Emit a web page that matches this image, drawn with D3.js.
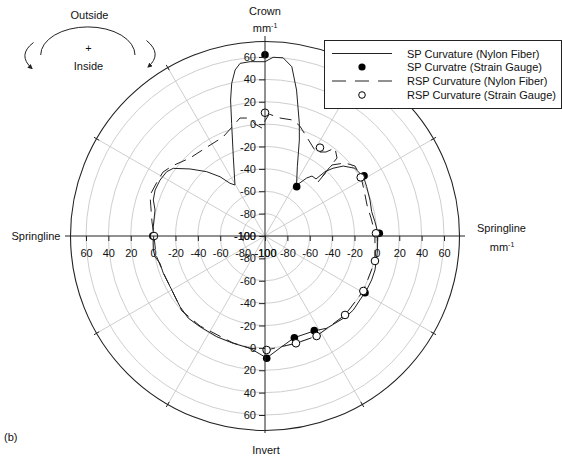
<!DOCTYPE html>
<html>
<head>
<meta charset="utf-8">
<script src="https://cdn.jsdelivr.net/npm/d3@7"></script>
<style>
  body { margin: 0; background: #fff; }
  svg { font-family: Arial, "Liberation Sans", Helvetica, sans-serif; }
</style>
</head>
<body>
<div id="chart"></div>
<script>
// radial tick values (mm^-1), centre is -100
const tickValues = [-100, -80, -60, -40, -20, 0, 20, 40, 60];
const gridValues = [-80, -60, -40, -20, 0, 20, 40, 60];
const spokeAngles = [30, 60, 120, 150, 210, 240, 300, 330];

// SP Curvature (Nylon Fiber): angle (deg, clockwise from crown), curvature
const spAngle = [0, 2.6, 5.8, 9.0, 12.2, 16.9, 19.7, 25.0, 30.4, 32.1, 35.7, 38.1, 41.8, 43.0, 45.1, 48.2,
  53.0, 56.6, 59.6, 64.1, 71.1, 77.2, 82.6, 88.5, 98.8, 107.2, 112.4, 118.0, 124.0, 130.0, 134.9, 146.2,
  152.7, 163.9, 172.4, 179.2, 187.6, 196.5, 205.6, 215.6, 223.0, 230.3, 239.9, 249.9, 255.4, 259.3, 262.9,
  270, 274.8, 283.3, 287.9, 292.7, 298.1, 303.2, 306.4, 311.8, 317.8, 322.8, 326.4, 329.5, 338.2, 343.5,
  345.8, 347.7, 349.8, 351.8, 355.1, 360];
const spValue = [55.8, 59.9, 60.1, 53.2, 33.5, 5.5, -8.9, -31.6, -44.1, -46.2, -36.2, -31.9, -31.6, -21.4, -14.2, -6.2,
  0.6, 1.7, 2.5, 1.0, -0.8, -2.2, -0.9, 1.0, 1.5, 2.9, 3.1, 2.9, 2.3, 3.0, 2.2, -0.8,
  -4.5, -5.4, 1.0, 9.0, 1.3, 0.0, -0.2, -0.3, 0.5, -1.2, -3.7, -3.2, -3.0, 0.0, 0.6,
  0.1, 0.2, 1.0, 4.9, 6.5, 6.3, 5.0, 1.9, -10.1, -22.4, -33.5, -43.4, -47.1, -23.7, 5.0,
  25.4, 39.7, 50.8, 55.9, 56.4, 55.8];

// RSP Curvature (Nylon Fiber)
const rspAngle = [0, 2, 7.2, 13.6, 17.6, 23.9, 31.3, 36.0, 38.5, 42.7, 44.5, 43.3, 47.6, 52.1, 58.4, 65.1,
  73.1, 80.4, 88.4, 102.8, 119.2, 134.6, 152.7, 163.9, 179.2, 187.6, 196.6, 215.8, 227.9, 240, 250.6,
  260.1, 270, 277.1, 284.8, 289.6, 296.6, 302.1, 307.0, 316.1, 326.9, 337.0, 343.2, 348.0, 352.8, 354.9,
  358.4, 360];
const rspValue = [3, 9, 6.3, 6.6, 3.1, -5.2, -12.2, -7.2, 0.5, -5.1, -32.4, -12.8, -3.2, 1.9, 0.7, -2.4,
  -4.7, -3.9, -1.7, 0.8, 0.7, 0.5, 0.6, -0.2, 1.9, 1.2, -0.2, -0.8, 0.0, -3.7, -3.3,
  -1.1, -0.8, 1.8, 5.6, 9.1, 7.9, 7.6, 4.0, -3.3, -5.1, -3.9, 1.8, 7.8, 6.3, 0.5,
  -3.5, 3];

// Strain gauges
const spGaugeAngle = [0, 32.7, 58.7, 88.6, 119.6, 152.5, 163.9, 179.2, 270];
const spGaugeValue = [62, -47.6, 3.6, 2.2, 2.8, -4.6, -5.4, 9.3, 0.3];
const rspGaugeAngle = [0, 31.9, 58.5, 88.6, 102.8, 119.2, 134.6, 152.7, 163.9, 179.2, 270];
const rspGaugeValue = [10.2, -7, 0.3, -0.8, 0.8, 0.7, 0.5, 0.6, -0.2, 1.9, -0.8];

const legendLabels = ["SP Curvature (Nylon Fiber)", "SP Curvatre (Strain Gauge)",
  "RSP Curvature (Nylon Fiber)", "RSP Curvature (Strain Gauge)"];

const width = 562, height = 458;
const cx = 265, cy = 236;
const rMax = 179, outerR = 194.5, axisR = 200;
const ink = "#222";

const svg = d3.select("#chart").append("svg")
  .attr("width", width).attr("height", height)
  .attr("viewBox", [0, 0, width, height]);

const r = d3.scaleLinear().domain([-100, 60]).range([0, rMax]);
const rad = d => d * Math.PI / 180;

const plot = svg.append("g").attr("transform", `translate(${cx},${cy})`);

// grid rings and spokes
plot.selectAll(".ring").data(gridValues).join("circle")
  .attr("r", d => r(d)).attr("fill", "none")
  .attr("stroke", "#c8c8c8").attr("stroke-width", 0.9);
plot.selectAll(".spoke").data(spokeAngles).join("line")
  .attr("x1", 0).attr("y1", 0)
  .attr("x2", d => outerR * Math.sin(rad(d)))
  .attr("y2", d => -outerR * Math.cos(rad(d)))
  .attr("stroke", "#c8c8c8").attr("stroke-width", 0.9);

// outer circle with small ticks
plot.append("circle").attr("r", outerR).attr("fill", "none")
  .attr("stroke", ink).attr("stroke-width", 1.1);
plot.selectAll(".otick").data(spokeAngles).join("line")
  .attr("x1", d => (outerR - 3) * Math.sin(rad(d)))
  .attr("y1", d => -(outerR - 3) * Math.cos(rad(d)))
  .attr("x2", d => (outerR + 3) * Math.sin(rad(d)))
  .attr("y2", d => -(outerR + 3) * Math.cos(rad(d)))
  .attr("stroke", ink).attr("stroke-width", 1);

// main axis lines
svg.append("line").attr("x1", cx - axisR).attr("x2", cx + axisR)
  .attr("y1", cy).attr("y2", cy).attr("stroke", ink);
svg.append("line").attr("x1", cx).attr("x2", cx)
  .attr("y1", cy - axisR).attr("y2", cy + 197).attr("stroke", ink);

// tick axes (four half axes)
const fmt = d => String(d);
function styleAxis(g) {
  g.select(".domain").remove();
  g.selectAll(".tick line").attr("stroke", ink);
  g.selectAll(".tick text").attr("fill", "#111")
    .style("font-size", "11px")
    .style("font-family", "Arial, 'Liberation Sans', Helvetica, sans-serif");
}
const xRight = d3.scaleLinear().domain([-100, 60]).range([cx, cx + rMax]);
const xLeft = d3.scaleLinear().domain([-100, 60]).range([cx, cx - rMax]);
const yUp = d3.scaleLinear().domain([-100, 60]).range([cy, cy - rMax]);
const yDown = d3.scaleLinear().domain([-100, 60]).range([cy, cy + rMax]);

[xLeft, xRight].forEach(s => {
  svg.append("g").attr("transform", `translate(0,${cy})`)
    .call(d3.axisBottom(s).tickValues(tickValues).tickFormat(fmt).tickSize(5).tickPadding(8))
    .call(styleAxis);
});
[yUp, yDown].forEach(s => {
  svg.append("g").attr("transform", `translate(${cx},0)`)
    .call(d3.axisLeft(s).tickValues(tickValues).tickFormat(fmt).tickSize(6).tickPadding(3))
    .call(styleAxis);
});

// curves
const radial = d3.lineRadial()
  .angle(d => rad(d[0]))
  .radius(d => r(d[1]));

const spData = spAngle.map((a, i) => [a, spValue[i]]);
const rspData = rspAngle.map((a, i) => [a, rspValue[i]]);

plot.append("path").attr("d", radial(rspData))
  .attr("fill", "none").attr("stroke", ink).attr("stroke-width", 1)
  .attr("stroke-dasharray", "12,7");
plot.append("path").attr("d", radial(spData))
  .attr("fill", "none").attr("stroke", ink).attr("stroke-width", 1);

// gauge markers
const px = (a, v) => r(v) * Math.sin(rad(a));
const py = (a, v) => -r(v) * Math.cos(rad(a));

plot.selectAll(".spg").data(spGaugeAngle).join("circle")
  .attr("cx", (a, i) => px(a, spGaugeValue[i]))
  .attr("cy", (a, i) => py(a, spGaugeValue[i]))
  .attr("r", 3.8).attr("fill", "#000");
plot.selectAll(".rspg").data(rspGaugeAngle).join("circle")
  .attr("cx", (a, i) => px(a, rspGaugeValue[i]))
  .attr("cy", (a, i) => py(a, rspGaugeValue[i]))
  .attr("r", 3.8).attr("fill", "#fff").attr("stroke", "#000").attr("stroke-width", 1);

// legend
const lg = svg.append("g");
lg.append("rect").attr("x", 324.5).attr("y", 40.5).attr("width", 237).attr("height", 68)
  .attr("fill", "#fff").attr("stroke", ink).attr("stroke-width", 1);
const rowY = [53.5, 67, 81, 95];
lg.append("line").attr("x1", 332).attr("x2", 392).attr("y1", rowY[0]).attr("y2", rowY[0])
  .attr("stroke", ink);
lg.append("circle").attr("cx", 362).attr("cy", rowY[1]).attr("r", 3.6).attr("fill", "#000");
lg.append("line").attr("x1", 332).attr("x2", 392).attr("y1", rowY[2]).attr("y2", rowY[2])
  .attr("stroke", ink).attr("stroke-dasharray", "14,9");
lg.append("circle").attr("cx", 362).attr("cy", rowY[3]).attr("r", 3.3)
  .attr("fill", "#fff").attr("stroke", "#000");
lg.selectAll(".lt").data(legendLabels).join("text")
  .attr("x", 407).attr("y", (d, i) => rowY[i] + 4)
  .style("font-size", "11px").attr("fill", "#111").text(d => d);

// direction labels
function label(x, y, txt, anchor) {
  return svg.append("text").attr("x", x).attr("y", y)
    .attr("text-anchor", anchor || "middle")
    .style("font-size", "11px").attr("fill", "#111").text(txt);
}
function unit(x, y, anchor) {
  const t = label(x, y, "mm", anchor);
  t.append("tspan").attr("dy", -4).style("font-size", "7px").text("-1");
}
label(cx, 14.5, "Crown");
unit(cx, 32);
label(11.5, 240, "Springline", "start");
label(477, 232, "Springline", "start");
unit(502, 250.5);
label(266, 454, "Invert");
label(4, 441, "(b)", "start");

// sign convention sketch
svg.append("defs").append("marker")
  .attr("id", "arr").attr("viewBox", "0 0 10 10").attr("refX", 8).attr("refY", 5)
  .attr("markerWidth", 5).attr("markerHeight", 5).attr("orient", "auto")
  .append("path").attr("d", "M0,0L10,5L0,10z").attr("fill", ink);
label(89.5, 19, "Outside");
label(88.5, 52, "+");
label(88.5, 70, "Inside");
svg.append("path").attr("d", "M40.7,55 A47,28 0 0 1 135,55")
  .attr("fill", "none").attr("stroke", ink).attr("stroke-width", 1);
svg.append("path").attr("d", "M33.5,42.5 Q17,55 32,68.5")
  .attr("fill", "none").attr("stroke", ink).attr("marker-end", "url(#arr)");
svg.append("path").attr("d", "M146.5,40.5 Q163,54 148,67")
  .attr("fill", "none").attr("stroke", ink).attr("marker-end", "url(#arr)");
</script>
</body>
</html>
